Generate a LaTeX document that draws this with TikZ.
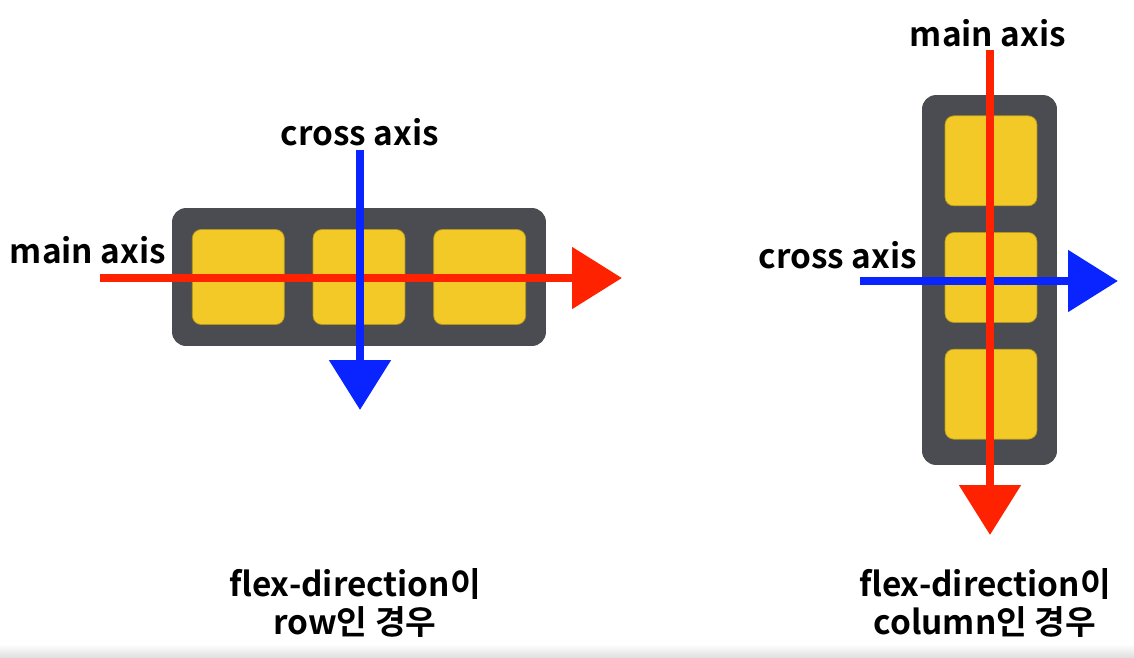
\documentclass[tikz,border=0pt]{standalone}
\usepackage{fontspec}
\setmainfont{Noto Sans CJK KR}[BoldFont={Noto Sans CJK KR Bold}]
\usetikzlibrary{arrows.meta,positioning}
\definecolor{panelgray}{HTML}{4A4C51}
\definecolor{itemyellow}{HTML}{F2C927}
\definecolor{mainred}{HTML}{FF2200}
\definecolor{crossblue}{HTML}{0A24FF}
\tikzset{
  panel/.style={
    rectangle, fill=panelgray, rounded corners=8pt,
    inner sep=0pt
  },
  item/.style={
    rectangle, fill=itemyellow, draw=itemyellow!75!black, line width=0.4pt,
    rounded corners=5pt, minimum width=1.84cm, minimum height=1.84cm,
    inner sep=0pt
  },
  axisarrow/.style={-{Triangle[length=1cm, width=1.2cm]}, line width=5pt},
  mainarrow/.style={axisarrow, draw=mainred},
  crossarrow/.style={axisarrow, draw=crossblue},
  axislabel/.style={font=\fontsize{19}{23}\selectfont\bfseries, inner sep=1pt},
  caption/.style={font=\fontsize{19}{22}\selectfont\bfseries, align=center}
}

\begin{document}
\begin{tikzpicture}[x=0.02cm, y=-0.02cm, node distance=0.56cm]
  \useasboundingbox (0,0) rectangle (1134,657);
  \shade[top color=white, bottom color=black!12] (0,644) rectangle (1134,657);

  % flex-direction: row
  \node[panel, minimum width=7.48cm, minimum height=2.76cm] (rowpanel) at (359,277) {};
  \node[item, minimum height=1.9cm] (rowmid) at (359,277) {};
  \node[item, minimum height=1.9cm, left=of rowmid] (rowleft) {};
  \node[item, minimum height=1.9cm, right=of rowmid] (rowright) {};

  \coordinate (rowmainstart) at (100,278);
  \coordinate (rowmainend) at (622,278);
  \coordinate (rowcrossstart) at (360,150);
  \coordinate (rowcrossend) at (360,410);
  \draw[mainarrow] (rowmainstart) -- (rowmainend);
  \draw[crossarrow] (rowcrossstart) -- (rowcrossend);

  \node[axislabel] (rowmainlabel) at (88,250) {main axis};
  \node[axislabel] (rowcrosslabel) at (360,132) {cross axis};
  \node[caption] (rowcaption) at (355,603) {flex-direction이\\row인 경우};

  % flex-direction: column
  \node[panel, minimum width=2.7cm, minimum height=7.4cm] (colpanel) at (989.5,280) {};
  \node[item, minimum height=1.8cm] (colmid) at (991,277.5) {};
  \node[item, minimum height=1.8cm, above=0.52cm of colmid] (coltop) {};
  \node[item, minimum height=1.8cm, below=0.52cm of colmid] (colbottom) {};

  \coordinate (colcrossstart) at (860,281);
  \coordinate (colcrossend) at (1118,281);
  \coordinate (colmainstart) at (990,50);
  \coordinate (colmainend) at (990,535);
  \draw[crossarrow] (colcrossstart) -- (colcrossend);
  \draw[mainarrow] (colmainstart) -- (colmainend);

  \node[axislabel] (colmainlabel) at (988,33) {main axis};
  \node[axislabel] (colcrosslabel) at (838,255) {cross axis};
  \node[caption] (colcaption) at (985,603) {flex-direction이\\column인 경우};
\end{tikzpicture}
\end{document}
